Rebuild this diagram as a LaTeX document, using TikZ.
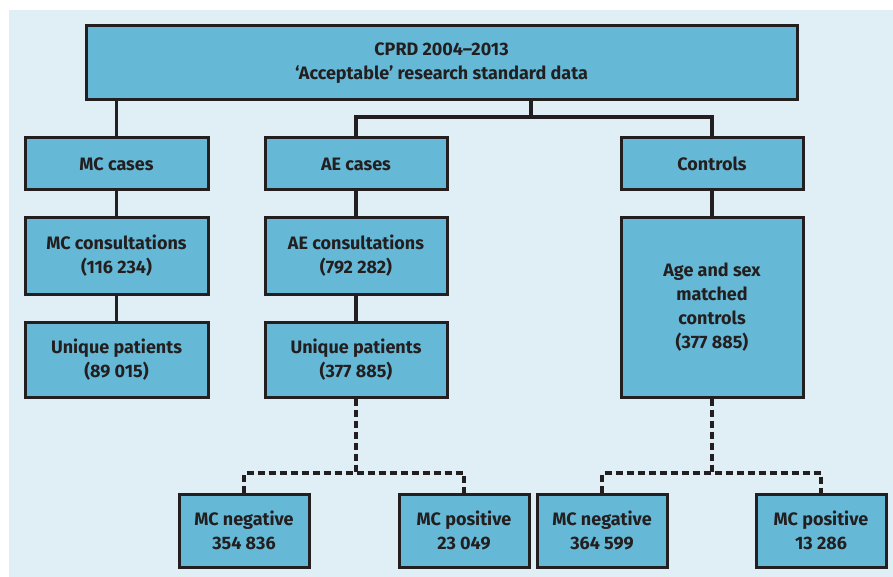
\documentclass[tikz,border=0pt]{standalone}
\usepackage{fontspec}
\setmainfont{Fira Sans}
\definecolor{boxfill}{HTML}{66B9D6}
\definecolor{panel}{HTML}{E0EEF5}
\definecolor{ink}{HTML}{231F20}
\begin{document}
\begin{tikzpicture}[x=1pt,y=-1pt,
  box/.style={draw=ink,fill=boxfill,line width=3pt,rectangle,inner sep=0pt,
    text=ink,align=center,font=\fontsize{18}{24}\selectfont\bfseries},
  conn/.style={draw=ink,line width=3.3pt,line join=miter},
  dconn/.style={conn,dash pattern=on 7pt off 4pt}]
\useasboundingbox (0,0) rectangle (893,577);
\fill[white] (0,0) rectangle (893,577);
\fill[panel] (9,10) rectangle (893,577);
% boxes
\node[box,minimum width=711pt,minimum height=74pt] (top) at (441.5,63) {CPRD 2004–2013\\‘Acceptable’ research standard data};
\node[box,minimum width=183pt,minimum height=52pt] (mccases) at (116.5,164) {MC cases};
\node[box,minimum width=182pt,minimum height=52pt] (aecases) at (356,164) {AE cases};
\node[box,minimum width=182pt,minimum height=52pt] (controls) at (712,164) {Controls};
\node[box,minimum width=183pt,minimum height=76pt] (mccons) at (116.5,256) {MC consultations\\(116 234)};
\node[box,minimum width=182pt,minimum height=76pt] (aecons) at (356,256) {AE consultations\\(792 282)};
\node[box,minimum width=183pt,minimum height=75pt] (mcuniq) at (116.5,359.5) {Unique patients\\(89 015)};
\node[box,minimum width=182pt,minimum height=75pt] (aeuniq) at (356,359.5) {Unique patients\\(377 885)};
\node[box,minimum width=182pt,minimum height=179pt] (agesex) at (712,307.5) {Age and sex\\matched\\controls\\(377 885)};
\node[box,minimum width=130pt,minimum height=73pt] (negA) at (244,530.5) {MC negative\\354 836};
\node[box,minimum width=130pt,minimum height=73pt] (posA) at (464,530.5) {MC positive\\23 049};
\node[box,minimum width=130pt,minimum height=73pt] (negB) at (602,530.5) {MC negative\\364 599};
\node[box,minimum width=130pt,minimum height=73pt] (posB) at (821,530.5) {MC positive\\13 286};
% connector points
\coordinate (br) at (531,117);
\coordinate (dA) at (356,473);
\coordinate (dB) at (712,473);
% solid connectors
\draw[conn] (top.south -| mccases.north) -- (mccases.north);
\draw[conn] (top.south -| br) -- (br);
\draw[conn] (aecases.north) |- (br) -| (controls.north);
\draw[conn] (mccases.south) -- (mccons.north);
\draw[conn] (mccons.south) -- (mcuniq.north);
\draw[conn] (aecases.south) -- (aecons.north);
\draw[conn] (aecons.south) -- (aeuniq.north);
\draw[conn] (controls.south) -- (agesex.north);
% dashed connectors
\draw[dconn] (aeuniq.south) -- (dA);
\draw[dconn] (negA.north) |- (dA) -| (posA.north);
\draw[dconn] (agesex.south) -- (dB);
\draw[dconn] (negB.north) |- (dB) -| (posB.north);
\end{tikzpicture}
\end{document}
